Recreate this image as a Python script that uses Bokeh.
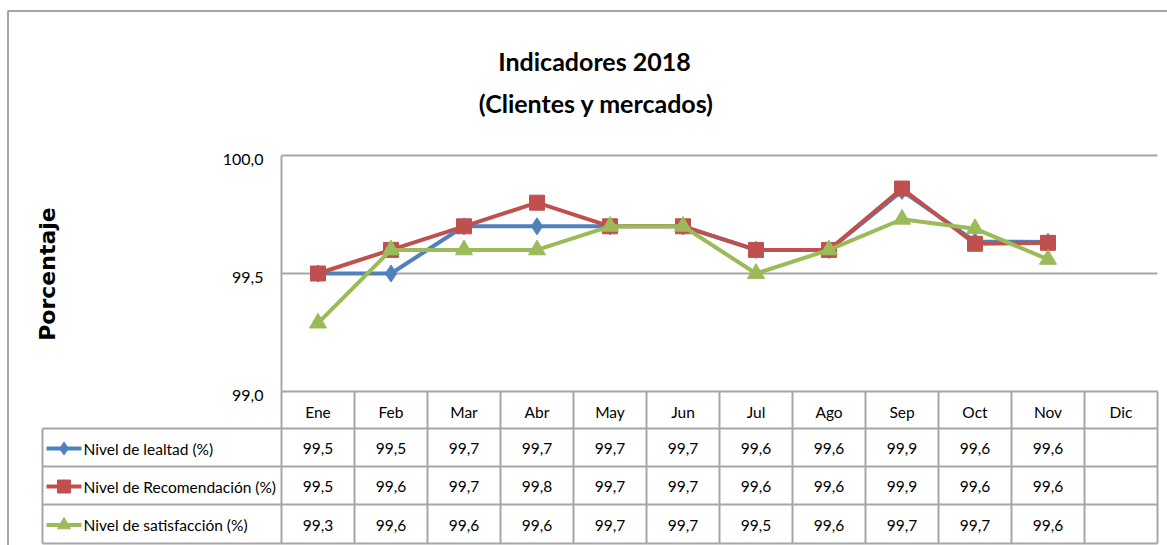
import math
from bokeh.plotting import figure
from bokeh.models import ColumnDataSource, Range1d
from bokeh.core.properties import value
from bokeh.embed import file_html
from bokeh.resources import INLINE

# ---------------- data ----------------
months = ["Ene", "Feb", "Mar", "Abr", "May", "Jun", "Jul", "Ago", "Sep", "Oct", "Nov", "Dic"]
lealtad = [99.5, 99.5, 99.7, 99.7, 99.7, 99.7, 99.6, 99.6, 99.85, 99.636, 99.634, float("nan")]
recomendacion = [99.5, 99.6, 99.7, 99.8, 99.7, 99.7, 99.6, 99.6, 99.86, 99.626, 99.63, float("nan")]
satisfaccion = [99.29, 99.6, 99.6, 99.6, 99.7, 99.7, 99.5, 99.6, 99.73, 99.69, 99.56, float("nan")]
series_names = ["Nivel de lealtad (%)", "Nivel de Recomendación (%)", "Nivel de satisfacción (%)"]
y_ticks = [99.0, 99.5, 100.0]
title_lines = ["Indicadores 2018", "(Clientes y mercados)"]
y_label = "Porcentaje"

# ---------------- layout helpers (canvas pixel -> data) ----------------
X0, COLW = 281.0, 73.0          # left edge of plot area, column width (px)
Y100, PXU = 155.0, 236.0        # pixel of 100.0, pixels per unit
def px(x):
    return (x - X0) / COLW
def py(y):
    return 100.0 - (y - Y100) / PXU

W, H = 1167, 545
p = figure(width=W, height=H, output_backend="svg", toolbar_location=None,
           x_axis_location=None, y_axis_location=None, title=None,
           x_range=Range1d(px(0), px(W)), y_range=Range1d(py(H), py(0)),
           min_border=0, outline_line_color=None)
p.xgrid.visible = False
p.ygrid.visible = False
p.background_fill_color = "white"
p.border_fill_color = "white"

GRID = "#a6a6a6"
FONT = value("Lato")
FS = "15.5px"
n = len(months)
xc = [i + 0.5 for i in range(n)]

# outer border (left + top)
p.line([px(7.5), px(7.5), px(W + 5)], [py(H + 10), py(10.5), py(10.5)], line_color=GRID, line_width=2)

# plot area gridlines and frame
p.segment(x0=[0] * len(y_ticks), x1=[n] * len(y_ticks), y0=y_ticks, y1=y_ticks,
          line_color=GRID, line_width=2)
p.segment(x0=[0], x1=[0], y0=[y_ticks[0]], y1=[y_ticks[-1]], line_color=GRID, line_width=2)

# tick labels
p.text(x=[px(263)] * len(y_ticks), y=y_ticks,
       text=[f"{t:.1f}".replace(".", ",") for t in y_ticks],
       text_align="right", text_baseline="middle", y_offset=4,
       text_font=FONT, text_font_size="16px", text_color="black")

# series lines
colors = ["#4F81BD", "#C0504D", "#9BBB59"]
markers = ["diamond", "square", "triangle"]
msizes = [17, 15, 17]
all_series = [lealtad, recomendacion, satisfaccion]
for vals, c, m, s in zip(all_series, colors, markers, msizes):
    src = ColumnDataSource(dict(x=xc, y=vals))
    p.line("x", "y", source=src, line_color=c, line_width=4)
    p.scatter("x", "y", source=src, marker=m, size=s, fill_color=c, line_color=c)

# ---------------- data table ----------------
row_tops = [391, 428, 466, 504, 543]
for yy in row_tops[1:]:
    p.segment(x0=[px(42)], x1=[n], y0=[py(yy)], y1=[py(yy)], line_color=GRID, line_width=2)
p.segment(x0=list(range(n + 1)), x1=list(range(n + 1)),
          y0=[py(391)] * (n + 1), y1=[py(543)] * (n + 1), line_color=GRID, line_width=2)
p.segment(x0=[px(42)], x1=[px(42)], y0=[py(428)], y1=[py(543)], line_color=GRID, line_width=2)

# month header
p.text(x=xc, y=[py(411)] * n, text=months, text_align="center", text_baseline="middle",
       text_font=FONT, text_font_size=FS, text_color="black")

for r, (vals, c, m, name) in enumerate(zip(all_series, colors, markers, series_names)):
    yc = py((row_tops[r + 1] + row_tops[r + 2]) / 2 + 1)
    cells = ["" if math.isnan(v) else f"{v + 1e-9:.1f}".replace(".", ",") for v in vals]
    p.text(x=xc, y=[yc] * n, text=cells, text_align="center", text_baseline="middle",
           text_font=FONT, text_font_size=FS, text_color="black")
    # legend key
    p.line([px(46), px(81)], [yc, yc], line_color=c, line_width=4)
    p.scatter([px(63.5)], [yc], marker=m, size=13, fill_color=c, line_color=c)
    p.text(x=[px(83)], y=[yc], text=[name], text_align="left", text_baseline="middle",
           text_font=FONT, text_font_size=FS, text_color="black")

# titles
p.text(x=[px(594)], y=[py(60)], text=[title_lines[0]], text_align="center", text_baseline="middle",
       text_font=FONT, text_font_size="25px", text_font_style="bold", text_color="black")
p.text(x=[px(596)], y=[py(102)], text=[title_lines[1]], text_align="center", text_baseline="middle",
       text_font=FONT, text_font_size="25px", text_font_style="bold", text_color="black")

# y axis label
p.text(x=[px(47)], y=[py(273.5)], text=[y_label], angle=math.pi / 2, text_align="center",
       text_baseline="middle", text_font=value("DejaVu Sans"), text_font_size="22px",
       text_font_style="bold", text_color="black")

open("out.html", "w").write(file_html(p, INLINE))
